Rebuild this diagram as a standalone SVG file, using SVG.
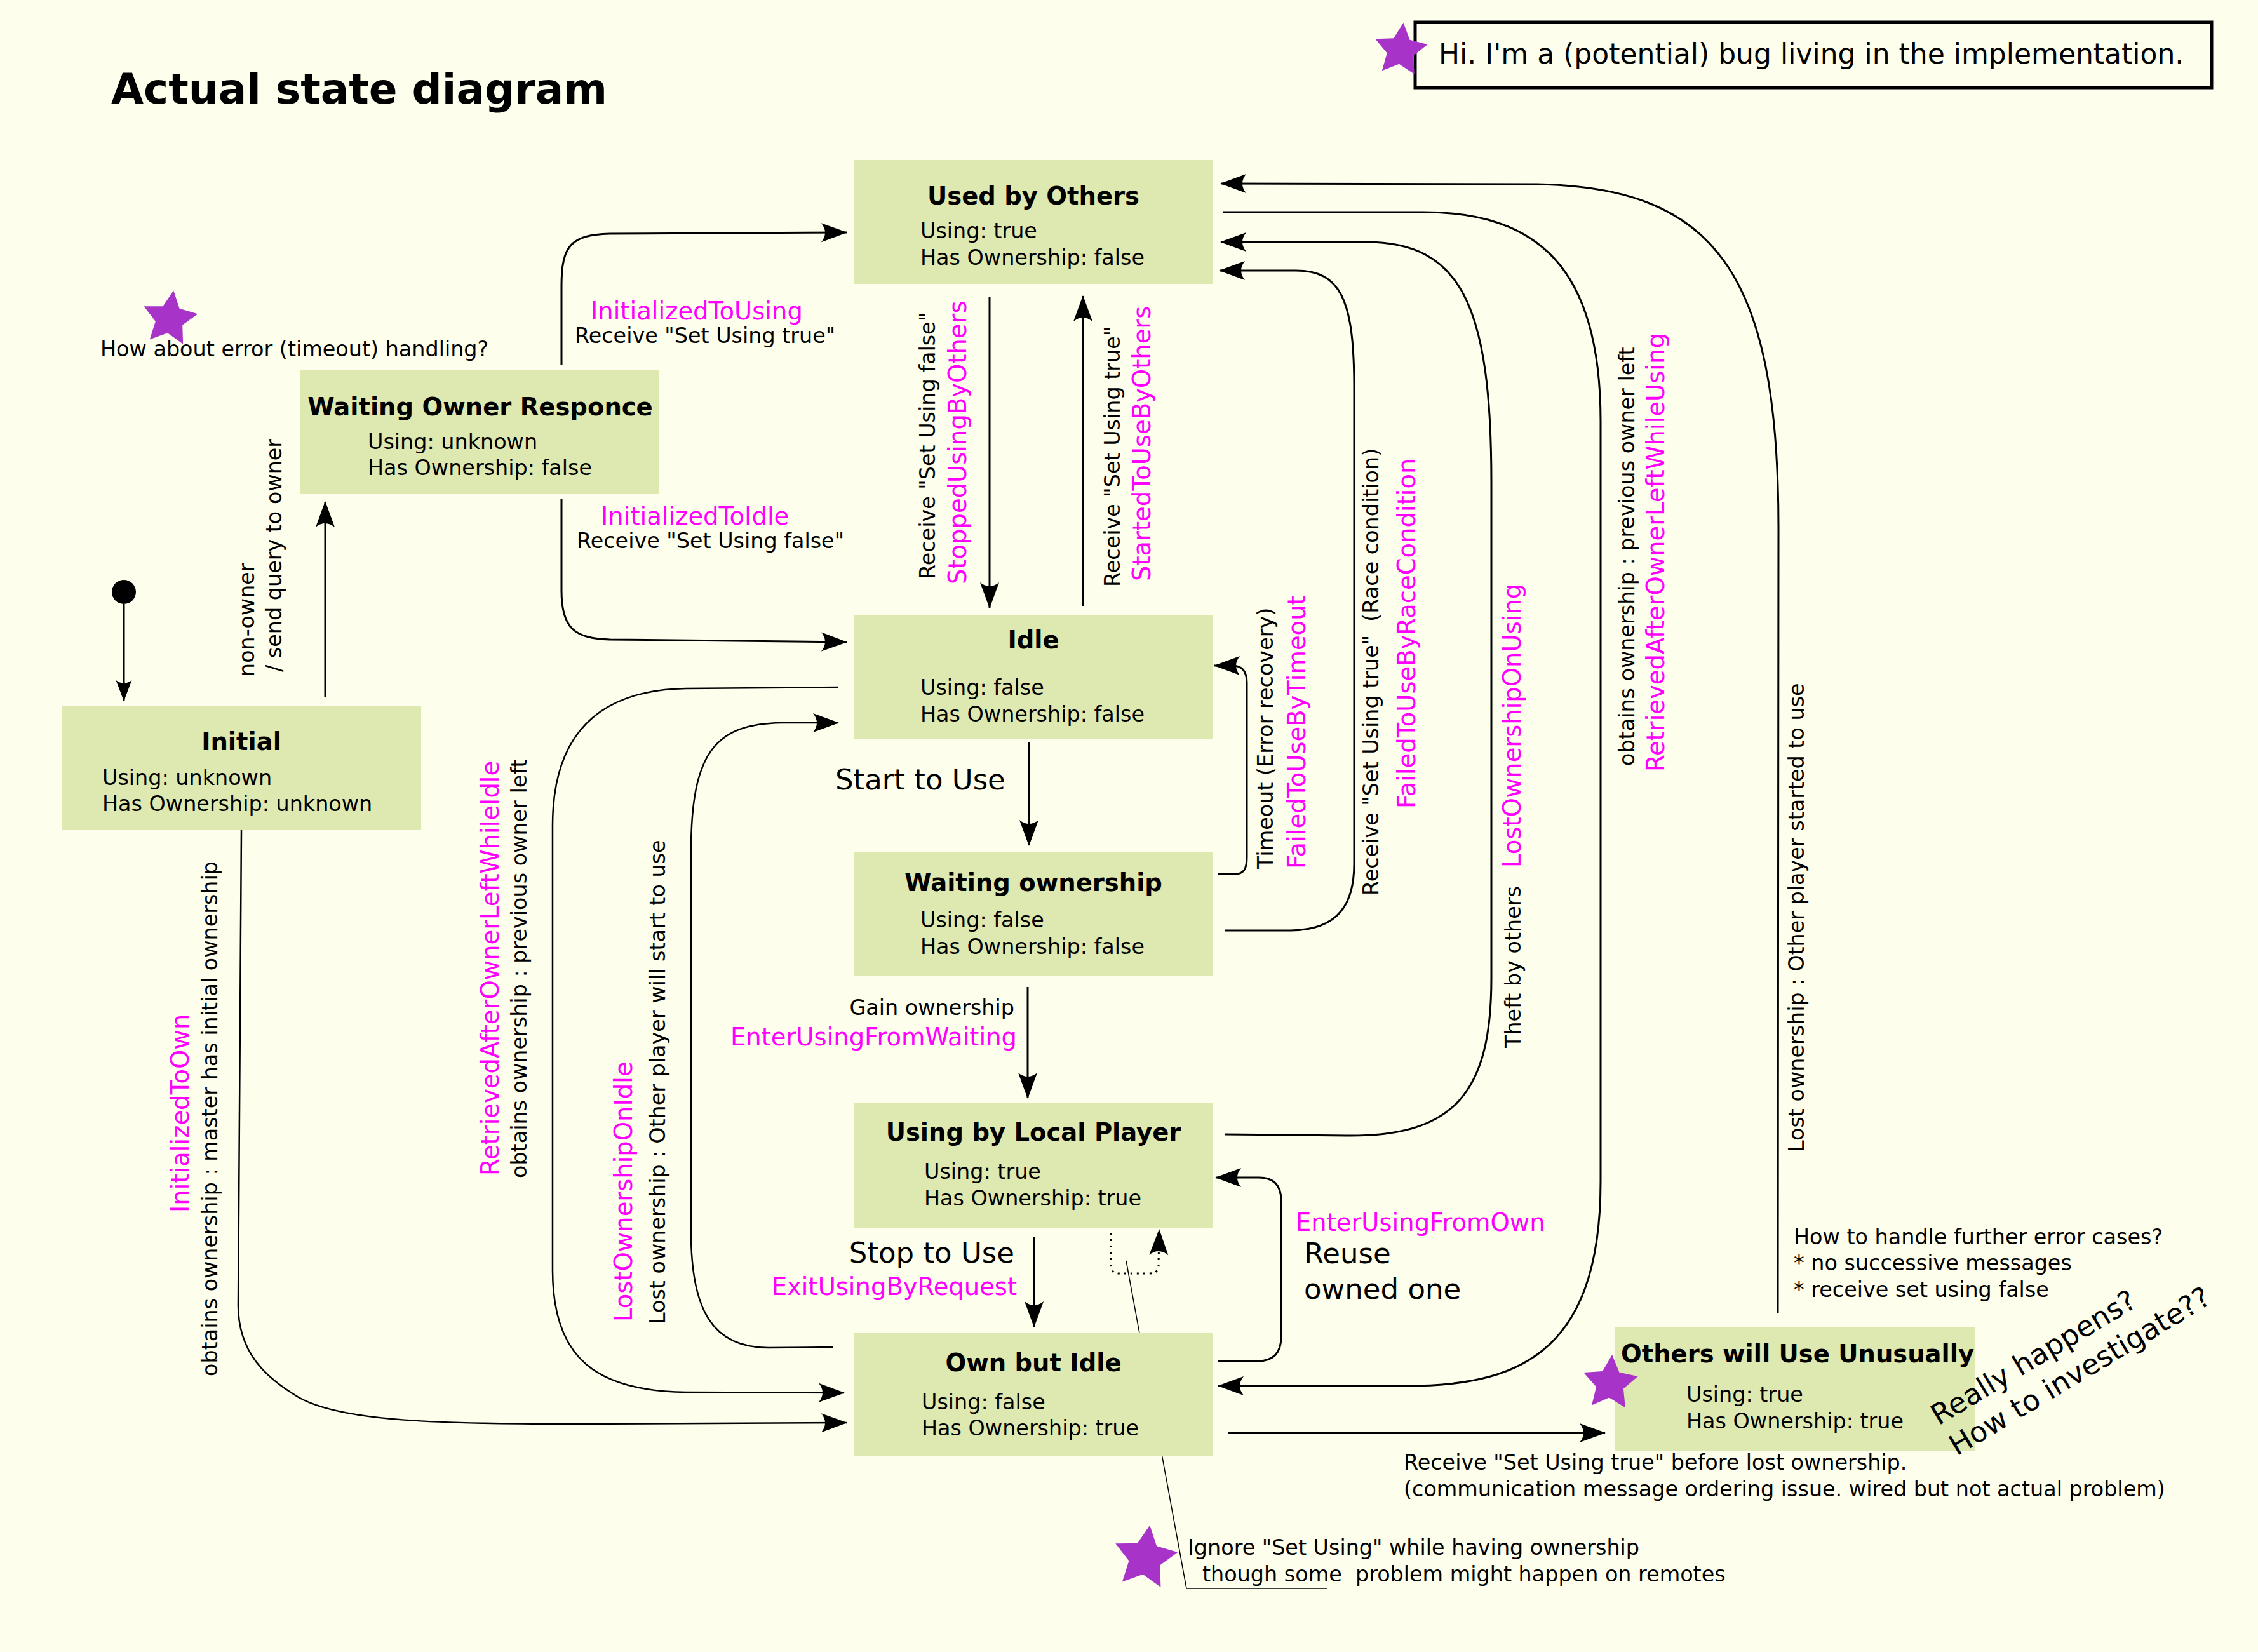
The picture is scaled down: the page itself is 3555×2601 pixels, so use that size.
<svg xmlns="http://www.w3.org/2000/svg" width="3555" height="2601" viewBox="0 0 3555 2601">
<defs>
<style>
text{font-family:'DejaVu Sans','Liberation Sans',sans-serif;font-size:33.4px;fill:#000}
.m{font-size:38.5px;fill:#ff00ff}
.h{font-weight:bold;font-size:38.5px}
.b{font-size:45px}
.box{fill:#dee8b1}
.c{fill:none;stroke:#000;stroke-width:3}
.c2{fill:none;stroke:#000;stroke-width:2.5}
.star{fill:#a833c8}
</style>
<marker id="ah" viewBox="-44 -18 48 36" markerWidth="48" markerHeight="36" refX="0" refY="0" orient="auto" markerUnits="userSpaceOnUse"><path d="M1,0 L-40,-15 C-32,-5 -32,5 -40,15 Z" fill="#000"/></marker>
<marker id="ahs" viewBox="-44 -18 48 36" markerWidth="48" markerHeight="36" refX="0" refY="0" orient="auto" markerUnits="userSpaceOnUse"><path d="M1,0 L-32,-12.5 C-26,-4 -26,4 -32,12.5 Z" fill="#000"/></marker>
<path id="starp" d="M0,-50 L14.7,-20.2 L47.6,-15.5 L23.8,7.7 L29.4,40.5 L0,25 L-29.4,40.5 L-23.8,7.7 L-47.6,-15.5 L-14.7,-20.2 Z"/>
</defs>
<rect x="0" y="0" width="3555" height="2601" fill="#fdfeec"/>
<text x="175" y="163" style="font-weight:bold;font-size:66px">Actual state diagram</text>

<g id="connectors">
<circle cx="195" cy="932" r="19" fill="#000"/>
<path class="c" d="M195,951 L195,1103" marker-end="url(#ahs)"/>
<path class="c" d="M512,1097 L512,790" marker-end="url(#ah)"/>
<path class="c" d="M884,574 L884,450 C884,385 900,370 960,368 L1333,366" marker-end="url(#ah)"/>
<path class="c" d="M884,785 L884,930 C884,990 905,1005 960,1007 L1333,1011" marker-end="url(#ah)"/>
<path class="c" d="M1558,467 L1558,957" marker-end="url(#ah)"/>
<path class="c" d="M1705,954 L1705,466" marker-end="url(#ah)"/>
<path class="c" d="M1620,1169 L1620,1331" marker-end="url(#ah)"/>
<path class="c" d="M1918,1376 L1945,1376 C1958,1376 1963,1368 1963,1350 L1963,1075 C1963,1057 1956,1048 1940,1048 L1912,1048" marker-end="url(#ah)"/>
<path class="c" d="M1928,1465 L2030,1465 C2110,1465 2132,1420 2132,1360 L2132,610 C2132,470 2110,426 2040,426 L1920,426" marker-end="url(#ah)"/>
<path class="c" d="M1618,1554 L1618,1729" marker-end="url(#ah)"/>
<path class="c" d="M1928,1786 L2120,1788 C2290,1790 2348,1720 2348,1540 L2348,760 C2348,480 2300,381 2150,381 L1922,381" marker-end="url(#ah)"/>
<path class="c" d="M1628,1948 L1628,2089" marker-end="url(#ah)"/>
<path class="c" d="M1918,2143 L1980,2143 C2005,2143 2017,2130 2017,2105 L2017,1890 C2017,1866 2005,1854 1982,1854 L1914,1854" marker-end="url(#ah)"/>
<path class="c" style="stroke-dasharray:3,7" d="M1749,1941 L1749,1993 Q1749,2005 1762,2005 L1810,2005 Q1824,2005 1824,1992 L1825,1936" marker-end="url(#ah)"/>
<path class="c" d="M1934,2256 L2527,2256" marker-end="url(#ah)"/>
<path class="c2" d="M380,1307 L375,2050 C373,2130 420,2170 470,2200 C540,2240 700,2241 900,2242 L1333,2240" marker-end="url(#ah)"/>
<path class="c2" d="M1320,1082 L1080,1084 C960,1086 870,1140 870,1300 L870,2000 C870,2140 940,2190 1080,2192 L1329,2193" marker-end="url(#ah)"/>
<path class="c2" d="M1311,2121 L1210,2122 C1120,2122 1090,2060 1088,1950 L1088,1330 C1090,1180 1130,1140 1230,1138 L1320,1138" marker-end="url(#ah)"/>
<path class="c" d="M1926,334 L2240,334 C2420,334 2520,420 2520,663 L2520,1860 C2520,2140 2380,2182 2212,2182 L1918,2182" marker-end="url(#ah)"/>
<path class="c" d="M2799,2067 L2800,830 C2800,430 2700,295 2420,290 L1922,289" marker-end="url(#ah)"/>
<path fill="none" stroke="#000" stroke-width="1.5" d="M1773,1985 L1868,2501 L2089,2501"/>
</g>

<g id="labels">
<text transform="translate(400,1065) rotate(-90)">non-owner</text>
<text transform="translate(443,1058) rotate(-90)">/ send query to owner</text>
<text x="930" y="503" class="m">InitializedToUsing</text>
<text x="905" y="540">Receive "Set Using true"</text>
<text x="946" y="826" class="m">InitializedToIdle</text>
<text x="908" y="863">Receive "Set Using false"</text>
<text transform="translate(1472,912) rotate(-90)">Receive "Set Using false"</text>
<text transform="translate(1521,920) rotate(-90)" class="m">StoppedUsingByOthers</text>
<text transform="translate(1763,924) rotate(-90)">Receive "Set Using true"</text>
<text transform="translate(1811,915) rotate(-90)" class="m">StartedToUseByOthers</text>
<text x="1315" y="1243" class="b">Start to Use</text>
<text transform="translate(2004,1368) rotate(-90)">Timeout (Error recovery)</text>
<text transform="translate(2055,1368) rotate(-90)" class="m">FailedToUseByTimeout</text>
<text transform="translate(2170,1410) rotate(-90)" xml:space="preserve">Receive "Set Using true"  (Race condition)</text>
<text transform="translate(2228,1273) rotate(-90)" class="m">FailedToUseByRaceCondition</text>
<text transform="translate(2394,1650) rotate(-90)">Theft by others</text>
<text transform="translate(2394,1366) rotate(-90)" class="m">LostOwnershipOnUsing</text>
<text transform="translate(2573,1206) rotate(-90)">obtains ownership : previous owner left</text>
<text transform="translate(2620,1215) rotate(-90)" class="m">RetrievedAfterOwnerLeftWhileUsing</text>
<text transform="translate(2840,1814) rotate(-90)">Lost ownership : Other player started to use</text>
<text x="1597" y="1598" text-anchor="end">Gain ownership</text>
<text x="1601" y="1646" text-anchor="end" class="m">EnterUsingFromWaiting</text>
<text x="1597" y="1988" text-anchor="end" class="b">Stop to Use</text>
<text x="1601" y="2039" text-anchor="end" class="m">ExitUsingByRequest</text>
<text x="2040" y="1938" class="m">EnterUsingFromOwn</text>
<text x="2053" y="1989" class="b">Reuse</text>
<text x="2053" y="2045" class="b">owned one</text>
<text transform="translate(342,2167) rotate(-90)">obtains ownership : master has initial ownership</text>
<text transform="translate(297,1909) rotate(-90)" class="m">InitializedToOwn</text>
<text transform="translate(785,1851) rotate(-90)" class="m">RetrievedAfterOwnerLeftWhileIdle</text>
<text transform="translate(829,1855) rotate(-90)">obtains ownership : previous owner left</text>
<text transform="translate(995,2081) rotate(-90)" class="m">LostOwnershipOnIdle</text>
<text transform="translate(1047,2085) rotate(-90)">Lost ownership : Other player will start to use</text>
<text x="2210" y="2314">Receive "Set Using true" before lost ownership.</text>
<text x="2210" y="2356">(communication message ordering issue. wired but not actual problem)</text>
</g>

<g id="node-initial">
<rect class="box" x="98" y="1111" width="565" height="196"/>
<text x="380" y="1181" text-anchor="middle" class="h">Initial</text>
<text x="161" y="1236">Using: unknown</text>
<text x="161" y="1277">Has Ownership: unknown</text>
</g>
<g id="node-waiting-owner-responce">
<rect class="box" x="473" y="582" width="565" height="196"/>
<text x="756" y="654" text-anchor="middle" class="h">Waiting Owner Responce</text>
<text x="579" y="707">Using: unknown</text>
<text x="579" y="748">Has Ownership: false</text>
</g>
<g id="node-used-by-others">
<rect class="box" x="1344" y="252" width="566" height="195"/>
<text x="1627" y="322" text-anchor="middle" class="h">Used by Others</text>
<text x="1449" y="375">Using: true</text>
<text x="1449" y="417">Has Ownership: false</text>
</g>
<g id="node-idle">
<rect class="box" x="1344" y="969" width="566" height="195"/>
<text x="1627" y="1021" text-anchor="middle" class="h">Idle</text>
<text x="1449" y="1094">Using: false</text>
<text x="1449" y="1136">Has Ownership: false</text>
</g>
<g id="node-waiting-ownership">
<rect class="box" x="1344" y="1341" width="566" height="196"/>
<text x="1627" y="1403" text-anchor="middle" class="h">Waiting ownership</text>
<text x="1449" y="1460">Using: false</text>
<text x="1449" y="1502">Has Ownership: false</text>
</g>
<g id="node-using-by-local-player">
<rect class="box" x="1344" y="1737" width="566" height="196"/>
<text x="1627" y="1796" text-anchor="middle" class="h">Using by Local Player</text>
<text x="1455" y="1856">Using: true</text>
<text x="1455" y="1898">Has Ownership: true</text>
</g>
<g id="node-own-but-idle">
<rect class="box" x="1344" y="2098" width="566" height="195"/>
<text x="1627" y="2159" text-anchor="middle" class="h">Own but Idle</text>
<text x="1451" y="2219">Using: false</text>
<text x="1451" y="2260">Has Ownership: true</text>
</g>
<g id="node-others-will-use-unusually">
<rect class="box" x="2543" y="2089" width="566" height="195"/>
<text x="2552" y="2145" class="h">Others will Use Unusually</text>
<text x="2655" y="2207">Using: true</text>
<text x="2655" y="2249">Has Ownership: true</text>
</g>

<g id="annotations">
<rect x="2228" y="35" width="1254" height="103" fill="none" stroke="#000" stroke-width="5"/>
<text x="2265" y="100" style="font-size:44px">Hi. I'm a (potential) bug living in the implementation.</text>
<use href="#starp" class="star" transform="translate(2205,79) rotate(6) scale(0.87)"/>
<use href="#starp" class="star" transform="translate(267,502) rotate(8) scale(0.9)"/>
<text x="158" y="561">How about error (timeout) handling?</text>
<use href="#starp" class="star" transform="translate(2535,2178) rotate(4) scale(0.9)"/>
<text x="2824" y="1959">How to handle further error cases?</text>
<text x="2824" y="2000">* no successive messages</text>
<text x="2824" y="2042">* receive set using false</text>
<g transform="translate(3052,2245) rotate(-31)">
<text x="0" y="0" class="b">Really happens?</text>
<text x="0" y="56" class="b">How to investigate??</text>
</g>
<use href="#starp" class="star" transform="translate(1803,2453) rotate(8) scale(1.04)"/>
<text x="1870" y="2448">Ignore "Set Using" while having ownership</text>
<text x="1893" y="2490" xml:space="preserve">though some  problem might happen on remotes</text>
</g>
</svg>
